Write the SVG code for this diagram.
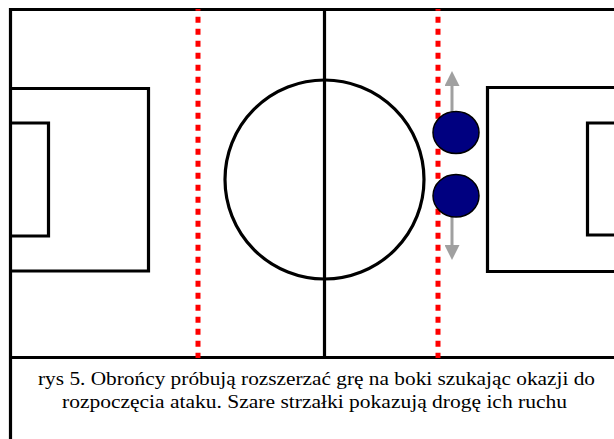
<svg xmlns="http://www.w3.org/2000/svg" width="614" height="439" viewBox="0 0 614 439">
<style>
.ln{fill:none;stroke:#000;stroke-width:3.2}
.red{stroke:#ff0000;stroke-width:5;stroke-dasharray:6 6}
.pl{fill:#000080;stroke:#000;stroke-width:1.5}
.cap{font-family:"Liberation Serif","Times New Roman",serif;font-size:19.5px;fill:#000}
</style>
<defs>
<marker id="ah" viewBox="0 0 15 15" refX="0" refY="7.5" markerWidth="15" markerHeight="15" markerUnits="userSpaceOnUse" orient="auto">
<path d="M0,0 L15,7.5 L0,15 Z" fill="#a0a0a0"/>
</marker>
</defs>
<rect width="614" height="439" fill="#fff"/>
<g id="pitch">
<path class="ln" d="M620,9.5 H10.5 V439"/>
<line class="ln" x1="10.5" y1="357.5" x2="620" y2="357.5"/>
<line class="ln" x1="324.5" y1="9.5" x2="324.5" y2="357.5"/>
<circle class="ln" cx="324.5" cy="179.5" r="99.5"/>
<path class="ln" d="M10.5,88.5 H148.5 V271 H10.5"/>
<path class="ln" d="M10.5,123 H48.5 V236 H10.5"/>
<path class="ln" d="M620,87.5 H487.5 V271.5 H620"/>
<path class="ln" d="M620,123 H587.5 V235 H620"/>
</g>
<g id="lines">
<line class="red" x1="198" y1="9" x2="198" y2="358" stroke-dashoffset="4.3"/>
<line class="red" x1="438" y1="9" x2="438" y2="358" stroke-dashoffset="4.3"/>
</g>
<g id="connectors">
<line x1="452" y1="112" x2="452" y2="86" stroke="#a0a0a0" stroke-width="3" marker-end="url(#ah)"/>
<line x1="452" y1="217" x2="452" y2="245" stroke="#a0a0a0" stroke-width="3" marker-end="url(#ah)"/>
</g>
<g id="player1"><ellipse class="pl" cx="456" cy="132.5" rx="23" ry="21"/></g>
<g id="player2"><ellipse class="pl" cx="456" cy="195.8" rx="23" ry="21.3"/></g>
<g id="caption">
<text class="cap" x="38" y="385" textLength="557" lengthAdjust="spacingAndGlyphs">rys 5. Obrońcy próbują rozszerzać grę na boki szukając okazji do</text>
<text class="cap" x="62" y="408" textLength="505" lengthAdjust="spacingAndGlyphs">rozpoczęcia ataku. Szare strzałki pokazują drogę ich ruchu</text>
</g>
</svg>
